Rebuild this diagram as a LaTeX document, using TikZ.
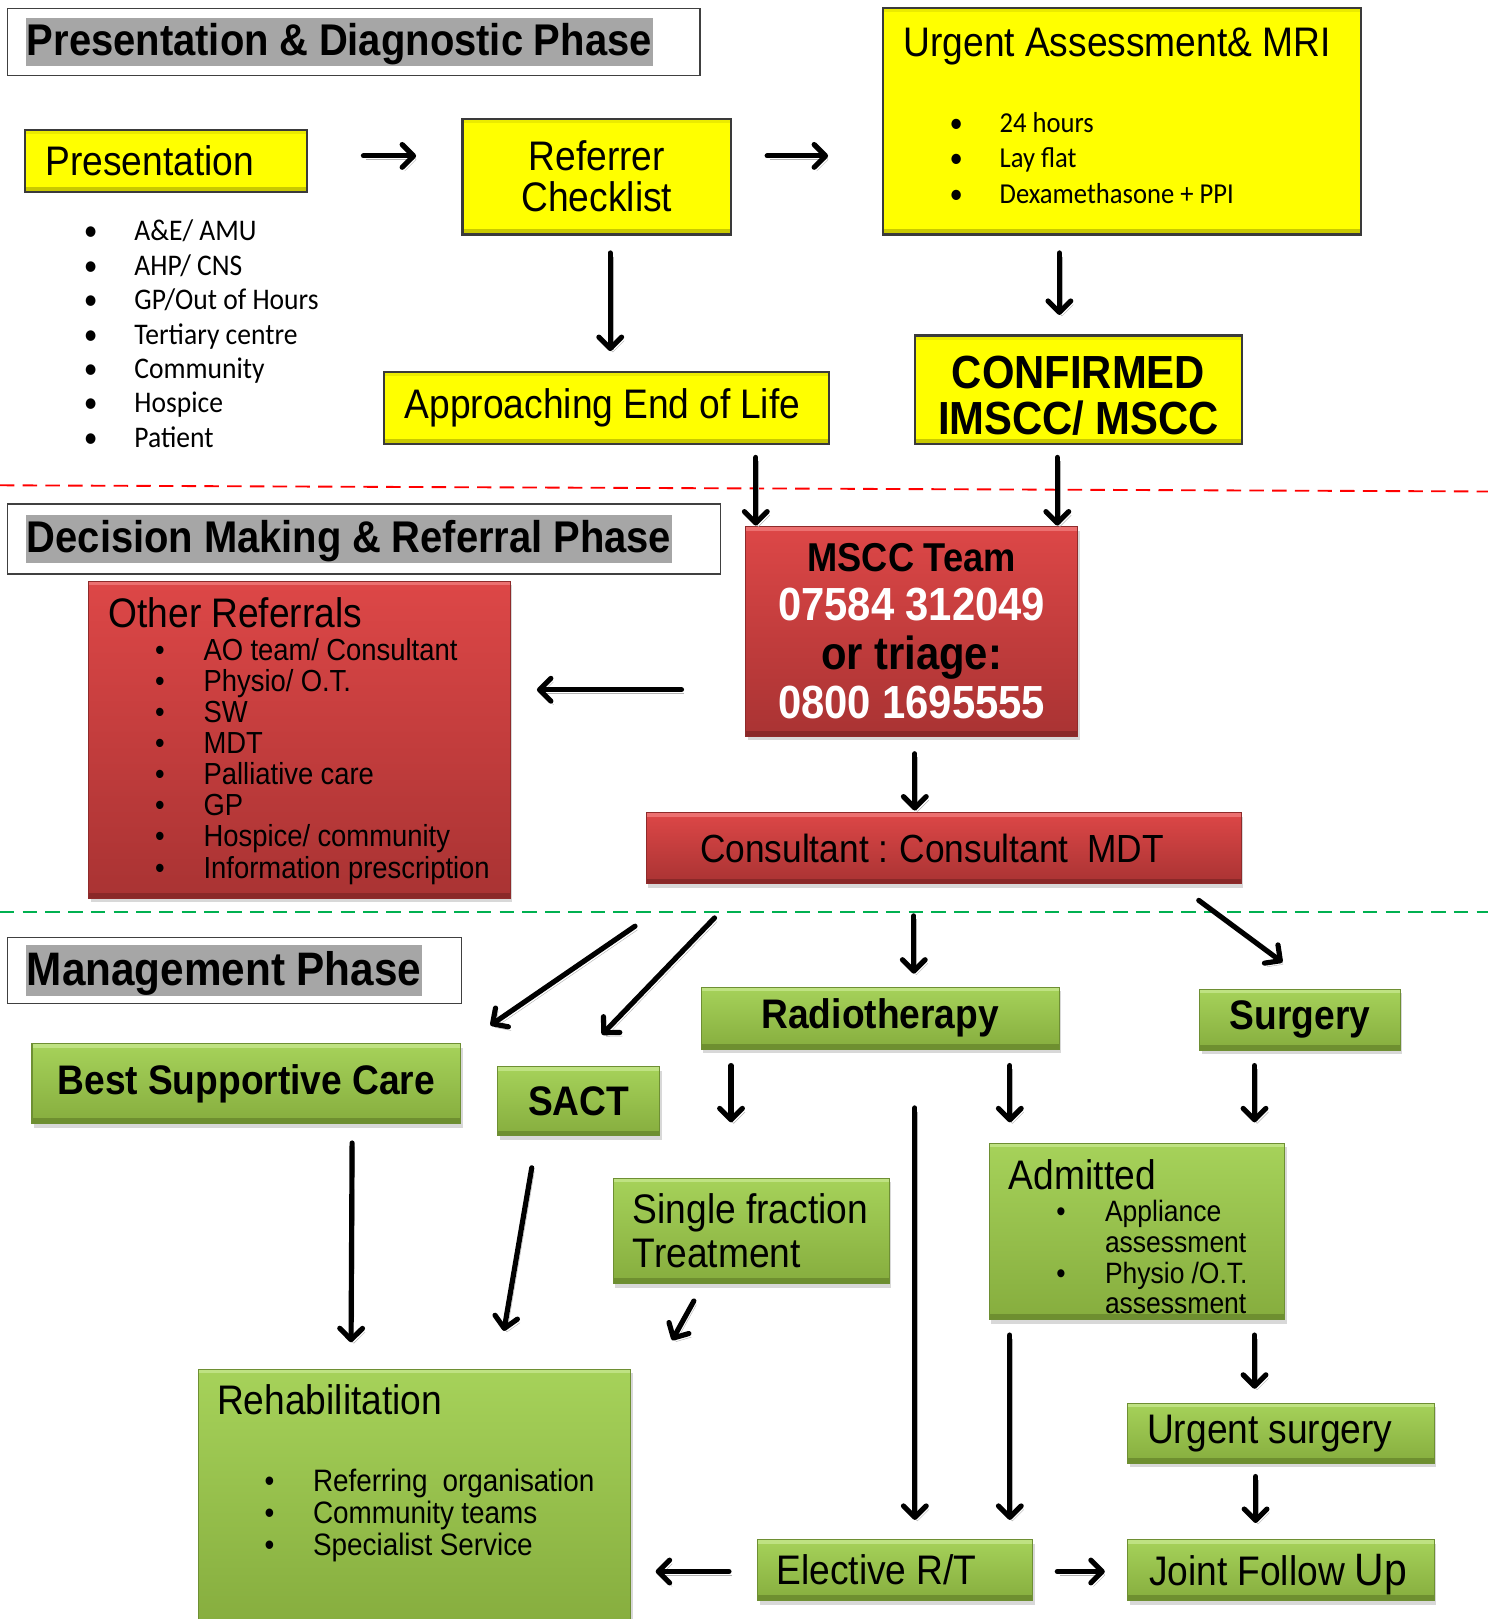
\documentclass[tikz,border=0pt]{standalone}
\usepackage{fontspec}
\setmainfont{Liberation Sans}[FakeStretch=0.9]
\newfontfamily\calfont{Carlito}[FakeStretch=0.92]
\usetikzlibrary{arrows.meta, shadows}
\definecolor{ylw}{HTML}{FFFF00}
\definecolor{ylwbd}{HTML}{3A3A3A}
\definecolor{ylwlo}{HTML}{C9C900}
\definecolor{grntop}{HTML}{A6D25A}
\definecolor{grnbot}{HTML}{86AD3E}
\definecolor{grnhi}{HTML}{BFE282}
\definecolor{grnlo}{HTML}{6E8F30}
\definecolor{grnbd}{HTML}{6E8F33}
\definecolor{redtop}{HTML}{DD4747}
\definecolor{redbot}{HTML}{A93333}
\definecolor{redhi}{HTML}{EC7070}
\definecolor{redlo}{HTML}{8A2828}
\definecolor{redbd}{HTML}{8E2B2B}
\definecolor{hlgray}{HTML}{A6A6A6}
\definecolor{phasebd}{HTML}{404040}
\definecolor{cutred}{HTML}{FF0000}
\definecolor{cutgreen}{HTML}{00B050}
% size, leading, and word space
\newcommand{\fs}[2]{\fontsize{#1}{#2}\selectfont\spaceskip=0.24em\relax}
\newcommand{\boxbevel}[2]{%
  \fill[#1] (path picture bounding box.north west) rectangle ([yshift=-4pt]path picture bounding box.north east);
  \fill[#2] ([yshift=5pt]path picture bounding box.south west) rectangle (path picture bounding box.south east);}
\tikzset{
  box/.style={rectangle, anchor=north west, outer sep=0pt, align=left, text=black,
              execute at begin node={\spaceskip=0.24em\xspaceskip=0.3em\relax}},
  phase/.style={box, draw=phasebd, line width=1.3pt, fill=white, inner xsep=18pt,
                font=\bfseries\fs{43}{43}},
  ybox/.style={box, draw=ylwbd, line width=2.2pt, fill=ylw,
               path picture={\boxbevel{ylw!92!black}{ylwlo}},
               font=\fs{40}{40}},
  gbox/.style={box, draw=grnbd, line width=1pt, top color=grntop, bottom color=grnbot,
               drop shadow={shadow xshift=2pt, shadow yshift=-4pt, opacity=0.3},
               path picture={\boxbevel{grnhi}{grnlo}},
               font=\fs{40}{42}},
  gbold/.style={gbox, align=center, inner xsep=10pt, font=\bfseries\fs{40}{40}},
  rbox/.style={box, draw=redbd, line width=1pt, top color=redtop, bottom color=redbot,
               drop shadow={shadow xshift=2pt, shadow yshift=-4pt, opacity=0.3},
               path picture={\boxbevel{redhi}{redlo}},
               font=\fs{40}{40}},
  txt/.style={anchor=base west, inner sep=0pt, font=\fs{40}{40}},
  blist/.style={anchor=base west, inner sep=0pt},
  arr/.style={-{Straight Barb[length=11pt,width=22pt,line width=5pt,round]}, line width=5pt,
              draw=black, line cap=round,
              preaction={draw=black!30, transform canvas={shift={(2.5pt,-3.5pt)}}}},
  cut/.style={line width=1.8pt, dash pattern=on 14pt off 8pt},
}
\newcommand{\highl}[1]{{\setlength{\fboxsep}{1pt}\colorbox{hlgray}{\rule[-0.12em]{0pt}{0.95em}#1}}}
\newcommand{\pbul}[1][47pt]{\makebox[#1][l]{\textbullet}}

\begin{document}
\begin{tikzpicture}[x=1pt, y=-1pt]
  \useasboundingbox (0,0) rectangle (1441,1568);
  \fill[white] (0,0) rectangle (1441,1568);

  % phase cut lines
  \draw[cut, draw=cutred] (0,470) -- (1441,476);
  \draw[cut, draw=cutgreen] (0,883) -- (1441,883);

  % presentation & diagnostic phase
  \node[phase, minimum width=671pt, minimum height=65pt, text width=635pt] (ph1) at (7,8)
    {\highl{Presentation \& Diagnostic Phase}};
  \node[ybox, minimum width=273pt, minimum height=60pt, inner xsep=20pt, text width=233pt] (pres) at (24,126)
    {Presentation};
  \node[blist, font=\calfont\fontsize{29}{33.3}\selectfont] (presL) at (81,233.3)
    {\begin{tabular}[t]{@{}l@{}}
      \pbul[49pt]A\&E/ AMU\\
      \pbul[49pt]AHP/ CNS\\
      \pbul[49pt]GP/Out of Hours\\
      \pbul[49pt]Tertiary centre\\
      \pbul[49pt]Community\\
      \pbul[49pt]Hospice\\
      \pbul[49pt]Patient
    \end{tabular}};
  \node[ybox, minimum width=260pt, minimum height=112pt, inner xsep=10pt, text width=240pt, align=center] (ref) at (448,115)
    {Referrer\\Checklist};
  \node[ybox, minimum width=463pt, minimum height=219pt] (ua) at (855,8) {};
  \node[txt] (uaT) at (875,54.3) {Urgent Assessment\& MRI};
  \node[blist, font=\calfont\fontsize{28}{34.5}\selectfont] (uaL) at (919.5,128)
    {\begin{tabular}[t]{@{}l@{}}
      \pbul[48.5pt]24 hours\\
      \pbul[48.5pt]Lay flat\\
      \pbul[48.5pt]Dexamethasone + PPI
    \end{tabular}};
  \node[ybox, minimum width=431pt, minimum height=70pt, inner xsep=20pt, text width=391pt] (aeol) at (372,360)
    {\mbox{Approaching End of Life}};
  \node[ybox, minimum width=317pt, minimum height=105pt, inner xsep=8pt, text width=301pt, align=center,
        text height=43pt, font=\bfseries\fs{45}{45}] (conf) at (886,325)
    {CONFIRMED\\IMSCC/ MSCC};

  % decision making & referral phase
  \node[phase, minimum width=691pt, minimum height=68pt, text width=655pt] (ph2) at (7,488)
    {\highl{Decision Making \& Referral Phase}};
  \node[rbox, minimum width=322pt, minimum height=203pt, inner xsep=10pt, text width=302pt, align=center,
        font=\bfseries\fs{45}{47.3}] (mscc) at (722,510)
    {{\fs{39}{47.3}MSCC Team}\\
     \textcolor{white}{07584 312049}\\
     or triage:\\
     \textcolor{white}{0800 1695555}};
  \node[rbox, minimum width=408pt, minimum height=307pt] (oref) at (86,563) {};
  \node[txt] (orefT) at (105,607.3) {Other Referrals};
  \node[blist, font=\fs{29.5}{29.9}] (orefL) at (150,639.4)
    {\begin{tabular}[t]{@{}l@{}}
      \pbul AO team/ Consultant\\
      \pbul Physio/ O.T.\\
      \pbul SW\\
      \pbul MDT\\
      \pbul Palliative care\\
      \pbul GP\\
      \pbul Hospice/ community\\
      \pbul Information prescription
    \end{tabular}};
  \node[rbox, minimum width=576pt, minimum height=69pt, inner xsep=52pt, text width=472pt,
        font=\fs{38}{38}] (cons) at (626,787)
    {Consultant : Consultant~~MDT};

  % management phase
  \node[phase, minimum width=440pt, minimum height=64pt, text width=404pt,
        font=\bfseries\fs{45.5}{45.5}] (ph3) at (7,908)
    {\highl{Management Phase}};
  \node[gbold, minimum width=415pt, minimum height=77pt, text width=395pt] (bsc) at (31,1011)
    {Best Supportive Care};
  \node[gbold, minimum width=157pt, minimum height=67pt, text width=137pt] (sact) at (482,1033)
    {SACT};
  \node[gbold, minimum width=347pt, minimum height=60pt, text width=327pt] (radio) at (679,956)
    {Radiotherapy};
  \node[gbold, minimum width=194pt, minimum height=59pt, text width=174pt] (surg) at (1162,958)
    {Surgery};
  \node[gbox, minimum width=267pt, minimum height=102pt, inner xsep=19pt, text width=229pt] (sft) at (594,1141)
    {\mbox{Single fraction}\\Treatment};
  \node[gbox, minimum width=286pt, minimum height=171pt] (adm) at (958,1107) {};
  \node[txt] (admT) at (977,1152.3) {Admitted};
  \node[blist, font=\fs{28.5}{29.7}] (admL) at (1023,1183.2)
    {\begin{tabular}[t]{@{}l@{}}
      \pbul Appliance\\
      \hspace*{47pt}assessment\\
      \pbul Physio /O.T.\\
      \hspace*{47pt}assessment
    \end{tabular}};
  \node[gbox, minimum width=297pt, minimum height=58pt, inner xsep=19pt, text width=259pt] (usurg) at (1092,1359)
    {Urgent surgery};
  \node[gbox, minimum width=297pt, minimum height=59pt, inner xsep=21pt, text width=255pt, text depth=0pt] (jfu) at (1092,1491)
    {\mbox{Joint Follow {\fs{44}{44}Up}}};
  \node[gbox, minimum width=266pt, minimum height=59pt, inner xsep=18pt, text width=230pt] (ert) at (734,1491)
    {Elective R/T};
  \node[gbox, minimum width=419pt, minimum height=250pt] (rehab) at (192,1326) {};
  \node[txt] (rehabT) at (210,1370.3) {Rehabilitation};
  \node[blist, font=\fs{30}{31}] (rehabL) at (256,1444.7)
    {\begin{tabular}[t]{@{}l@{}}
      \pbul Referring~~organisation\\
      \pbul Community teams\\
      \pbul Specialist Service
    \end{tabular}};

  % connectors
  \draw[arr] ([xshift=55pt,yshift=5pt]pres.east) -- ([xshift=-45pt,yshift=20pt]ref.west);
  \draw[arr] ([xshift=35pt,yshift=20pt]ref.east) -- ([xshift=-53pt,yshift=-33.5pt]ua.west);
  \draw[arr] ([xshift=13pt,yshift=-18pt]ref.south) -- ([xshift=3.5pt,yshift=20pt]aeol.north);
  \draw[arr] ([xshift=-60.5pt,yshift=-18pt]ua.south) -- ([xshift=-18.5pt,yshift=20pt]conf.north);
  \draw[arr] ([xshift=144.5pt,yshift=-13pt]aeol.south) -- ([xshift=-151pt,yshift=1pt]mscc.north);
  \draw[arr] ([xshift=-20.5pt,yshift=-13pt]conf.south) -- ([xshift=141pt,yshift=1pt]mscc.north);
  \draw[arr] ([xshift=-62pt,yshift=-56.5pt]mscc.west) -- ([xshift=26pt,yshift=48.5pt]oref.east);
  \draw[arr] ([xshift=3pt,yshift=-17pt]mscc.south) -- ([xshift=-28pt,yshift=2pt]cons.north);
  \draw[arr] ([xshift=-11pt,yshift=-41pt]cons.south west) -- ([xshift=29pt,yshift=18pt]bsc.north east);
  \draw[arr] ([xshift=66pt,yshift=-33pt]cons.south west) -- ([xshift=22.5pt,yshift=31pt]sact.north);
  \draw[arr] ([xshift=-29pt,yshift=-31pt]cons.south) -- ([xshift=32.5pt,yshift=13pt]radio.north);
  \draw[arr] ([xshift=-41pt,yshift=-16pt]cons.south east) -- ([xshift=-17pt,yshift=26pt]surg.north);
  \draw[arr] ([xshift=29pt,yshift=-16pt]radio.south west) -- ([xshift=-19.5pt,yshift=54pt]sft.north);
  \draw[arr] ([xshift=-48pt,yshift=-16pt]radio.south east) -- ([xshift=20pt,yshift=20pt]adm.north west);
  \draw[arr] ([xshift=-44pt,yshift=-15pt]surg.south) -- ([xshift=-29pt,yshift=20pt]adm.north east);
  \draw[arr] ([xshift=33.5pt,yshift=-57pt]radio.south) -- ([xshift=19pt,yshift=19pt]ert.north);
  \draw[arr] ([xshift=102.5pt,yshift=-19pt]bsc.south) -- ([xshift=148pt,yshift=26pt]rehab.north west);
  \draw[arr] ([xshift=33pt,yshift=-31pt]sact.south west) -- ([xshift=296pt,yshift=37pt]rehab.north west);
  \draw[arr] ([xshift=78pt,yshift=-17pt]sft.south west) -- ([xshift=40pt,yshift=28pt]rehab.north east);
  \draw[arr] ([xshift=20pt,yshift=-15pt]adm.south west) -- ([xshift=-22pt,yshift=19pt]ert.north east);
  \draw[arr] ([xshift=-29pt,yshift=-15pt]adm.south east) -- ([xshift=-25.5pt,yshift=14pt]usurg.north);
  \draw[arr] ([xshift=-24.5pt,yshift=-13pt]usurg.south) -- ([xshift=-24.5pt,yshift=16pt]jfu.north);
  \draw[arr] ([xshift=24pt,yshift=-1.5pt]ert.east) -- ([xshift=-22pt,yshift=-1.5pt]jfu.west);
  \draw[arr] ([xshift=-28pt,yshift=-1.5pt]ert.west) -- ([xshift=24pt,yshift=-71pt]rehab.east);
\end{tikzpicture}
\end{document}
